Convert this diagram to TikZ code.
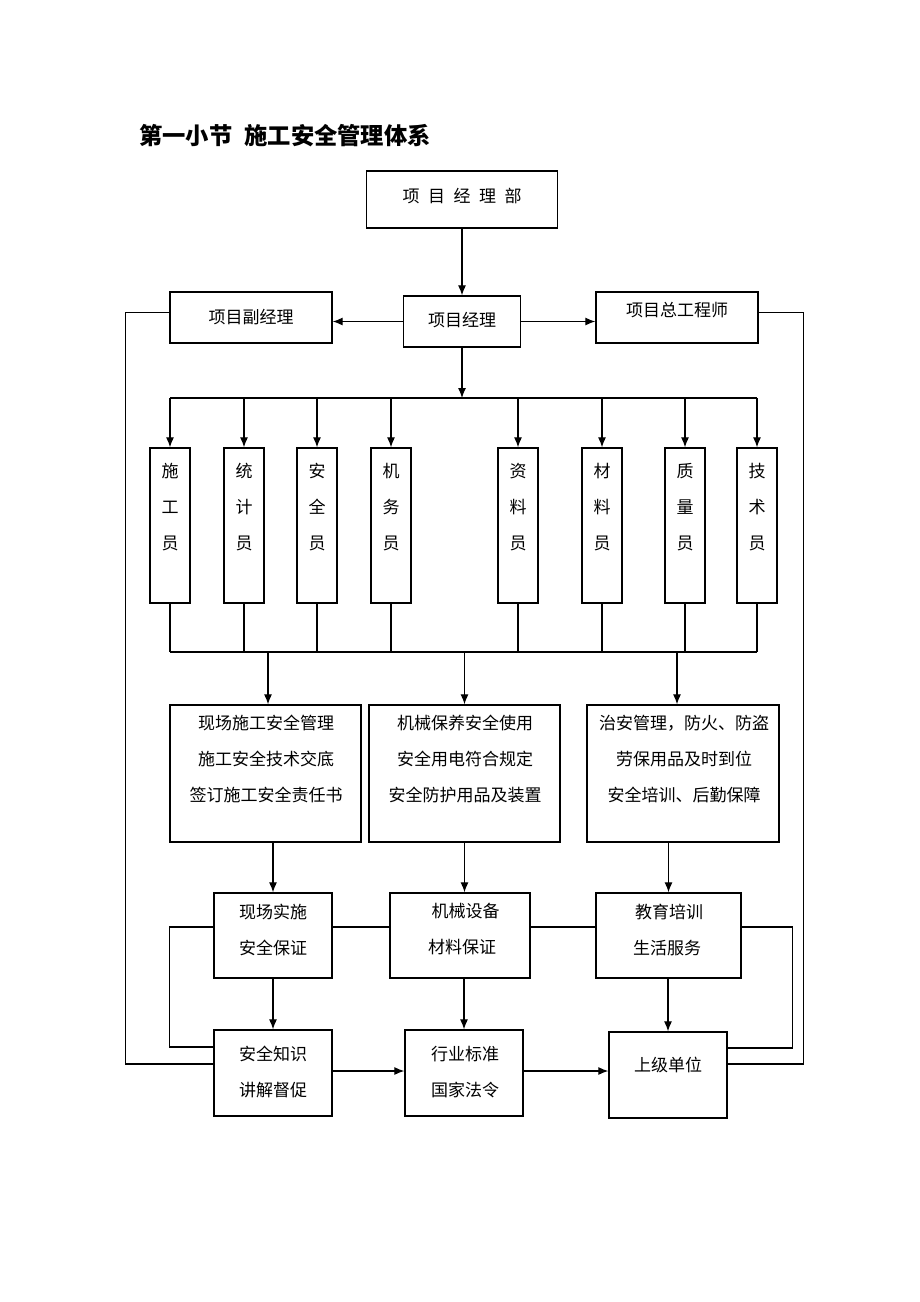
\documentclass[tikz,border=0pt]{standalone}
\usepackage{fontspec}
\newfontfamily\cjk{Noto Sans CJK SC}
\usetikzlibrary{arrows.meta}

\tikzset{
  box/.style={draw, line width=1.3pt, inner sep=0pt},
  vbox/.style={box, minimum width=40pt, minimum height=155pt},
  txt/.style={font=\cjk\fontsize{17}{36}\selectfont, align=center, inner sep=0pt},
  ln/.style={line width=1.2pt},
  arr/.style={ln, -{Latex[length=10pt,width=8pt]}},
}

\begin{document}
\begin{tikzpicture}[x=1pt,y=-1pt]
  \useasboundingbox (0,0) rectangle (920,1302);
  \node[anchor=west, inner sep=0pt, font=\cjk\bfseries\fontsize{23.3}{26}\selectfont] (title) at (139,136) {第一小节\hspace{12pt}施工安全管理体系};

  % top
  \node[box, minimum width=191pt, minimum height=57pt] (bu) at (462,199.5) {};
  \node[txt] (bu-t) at (462,196) {项\enspace 目\enspace 经\enspace 理\enspace 部};
  \node[box, minimum width=117pt, minimum height=51pt] (jl) at (462,321.5) {};
  \node[txt] (jl-t) at (462,320) {项目经理};
  \node[box, minimum width=162pt, minimum height=51pt] (fjl) at (251,317.5) {};
  \node[txt] (fjl-t) at (251,317) {项目副经理};
  \node[box, minimum width=162pt, minimum height=51pt] (zgs) at (677,317.5) {};
  \node[txt] (zgs-t) at (677,310) {项目总工程师};
  \draw[arr] (bu.south) -- (jl.north);
  \draw[arr] (jl.west) -- (jl.west -| fjl.east);
  \draw[arr] (jl.east) -- (jl.east -| zgs.west);

  % staff
  \coordinate (bus1) at (462,398);
  \coordinate (bus2) at (462,652);
  \draw[arr] (jl.south) -- (bus1);
  \foreach \x/\a/\b/\c/\n in {170/施/工/员/1, 244/统/计/员/2, 317/安/全/员/3, 391/机/务/员/4,
      518/资/料/员/5, 602/材/料/员/6, 685/质/量/员/7, 757/技/术/员/8}{
    \node[vbox] (v\n) at (\x,525.5) {};
    \node[txt] (v\n-t) at (\x,507) {\a\\\b\\\c};
    \draw[arr] (v\n.north |- bus1) -- (v\n.north);
    \draw[ln] (v\n.south) -- (v\n.south |- bus2);
  }
  \draw[ln] (v1.north |- bus1) -- (v8.north |- bus1);
  \draw[ln] (v1.south |- bus2) -- (v8.south |- bus2);

  % tasks
  \node[box, minimum width=191pt, minimum height=137pt] (A) at (265.5,773.5) {};
  \node[txt] (A-t) at (266,759) {现场施工安全管理\\施工安全技术交底\\签订施工安全责任书};
  \node[box, minimum width=191pt, minimum height=137pt] (B) at (464.5,773.5) {};
  \node[txt] (B-t) at (465,759) {机械保养安全使用\\安全用电符合规定\\安全防护用品及装置};
  \node[box, minimum width=192pt, minimum height=137pt] (C) at (683,773.5) {};
  \node[txt] (C-t) at (684,759) {治安管理，防火、防盗\\劳保用品及时到位\\安全培训、后勤保障};
  \draw[arr] ([xshift=2.5pt]A.north |- bus2) -- ([xshift=2.5pt]A.north);
  \draw[arr] (B.north |- bus2) -- (B.north);
  \draw[arr] ([xshift=-6pt]C.north |- bus2) -- ([xshift=-6pt]C.north);

  % guarantees
  \node[box, minimum width=118pt, minimum height=85pt] (D) at (273,935.5) {};
  \node[txt] (D-t) at (273,929.5) {现场实施\\安全保证};
  \node[box, minimum width=140pt, minimum height=85pt] (E) at (460,935.5) {};
  \node[txt] (E-t) at (462,929.5) {\hspace{7pt}机械设备\\材料保证};
  \node[box, minimum width=145pt, minimum height=85pt] (F) at (668.5,935.5) {};
  \node[txt] (F-t) at (667,929.5) {\hspace{4pt}教育培训\\生活服务};
  \draw[arr] (A.south -| D.north) -- (D.north);
  \draw[arr] (B.south) -- (B.south |- E.north);
  \draw[arr] (C.south -| F.north) -- (F.north);
  \draw[ln] ([yshift=8.5pt]D.east) -- ([yshift=8.5pt]E.west);
  \draw[ln] ([yshift=8.5pt]E.east) -- ([yshift=8.5pt]F.west);

  % bottom
  \node[box, minimum width=118pt, minimum height=86pt] (G) at (273,1073) {};
  \node[txt] (G-t) at (273,1072) {安全知识\\讲解督促};
  \node[box, minimum width=118pt, minimum height=86pt] (H) at (464,1073) {};
  \node[txt] (H-t) at (465,1072) {行业标准\\国家法令};
  \node[box, minimum width=118pt, minimum height=86pt] (I) at (668,1075) {};
  \node[txt] (I-t) at (668,1065) {上级单位};
  \draw[arr] (D.south) -- (G.north);
  \draw[arr] (E.south -| H.north) -- (H.north);
  \draw[arr] (F.south -| I.north) -- (I.north);
  \draw[arr] ([yshift=2pt]G.east) -- ([yshift=2pt]G.east -| H.west);
  \draw[arr] ([yshift=2pt]H.east) -- ([yshift=2pt]H.east -| I.west);

  % loops
  \draw[ln] ([yshift=8.5pt]D.west) -- ++(-44,0) |- ([yshift=26pt]G.west);
  \draw[ln] ([yshift=8.5pt]F.east) -- ++(51,0) |- ([yshift=27pt]I.east);
  \draw[ln] ([yshift=5pt]fjl.west) -- ++(-44,0) |- ([yshift=9pt]G.west);
  \draw[ln] ([yshift=5pt]zgs.east) -- ++(45,0) |- ([yshift=11pt]I.east);
\end{tikzpicture}
\end{document}
